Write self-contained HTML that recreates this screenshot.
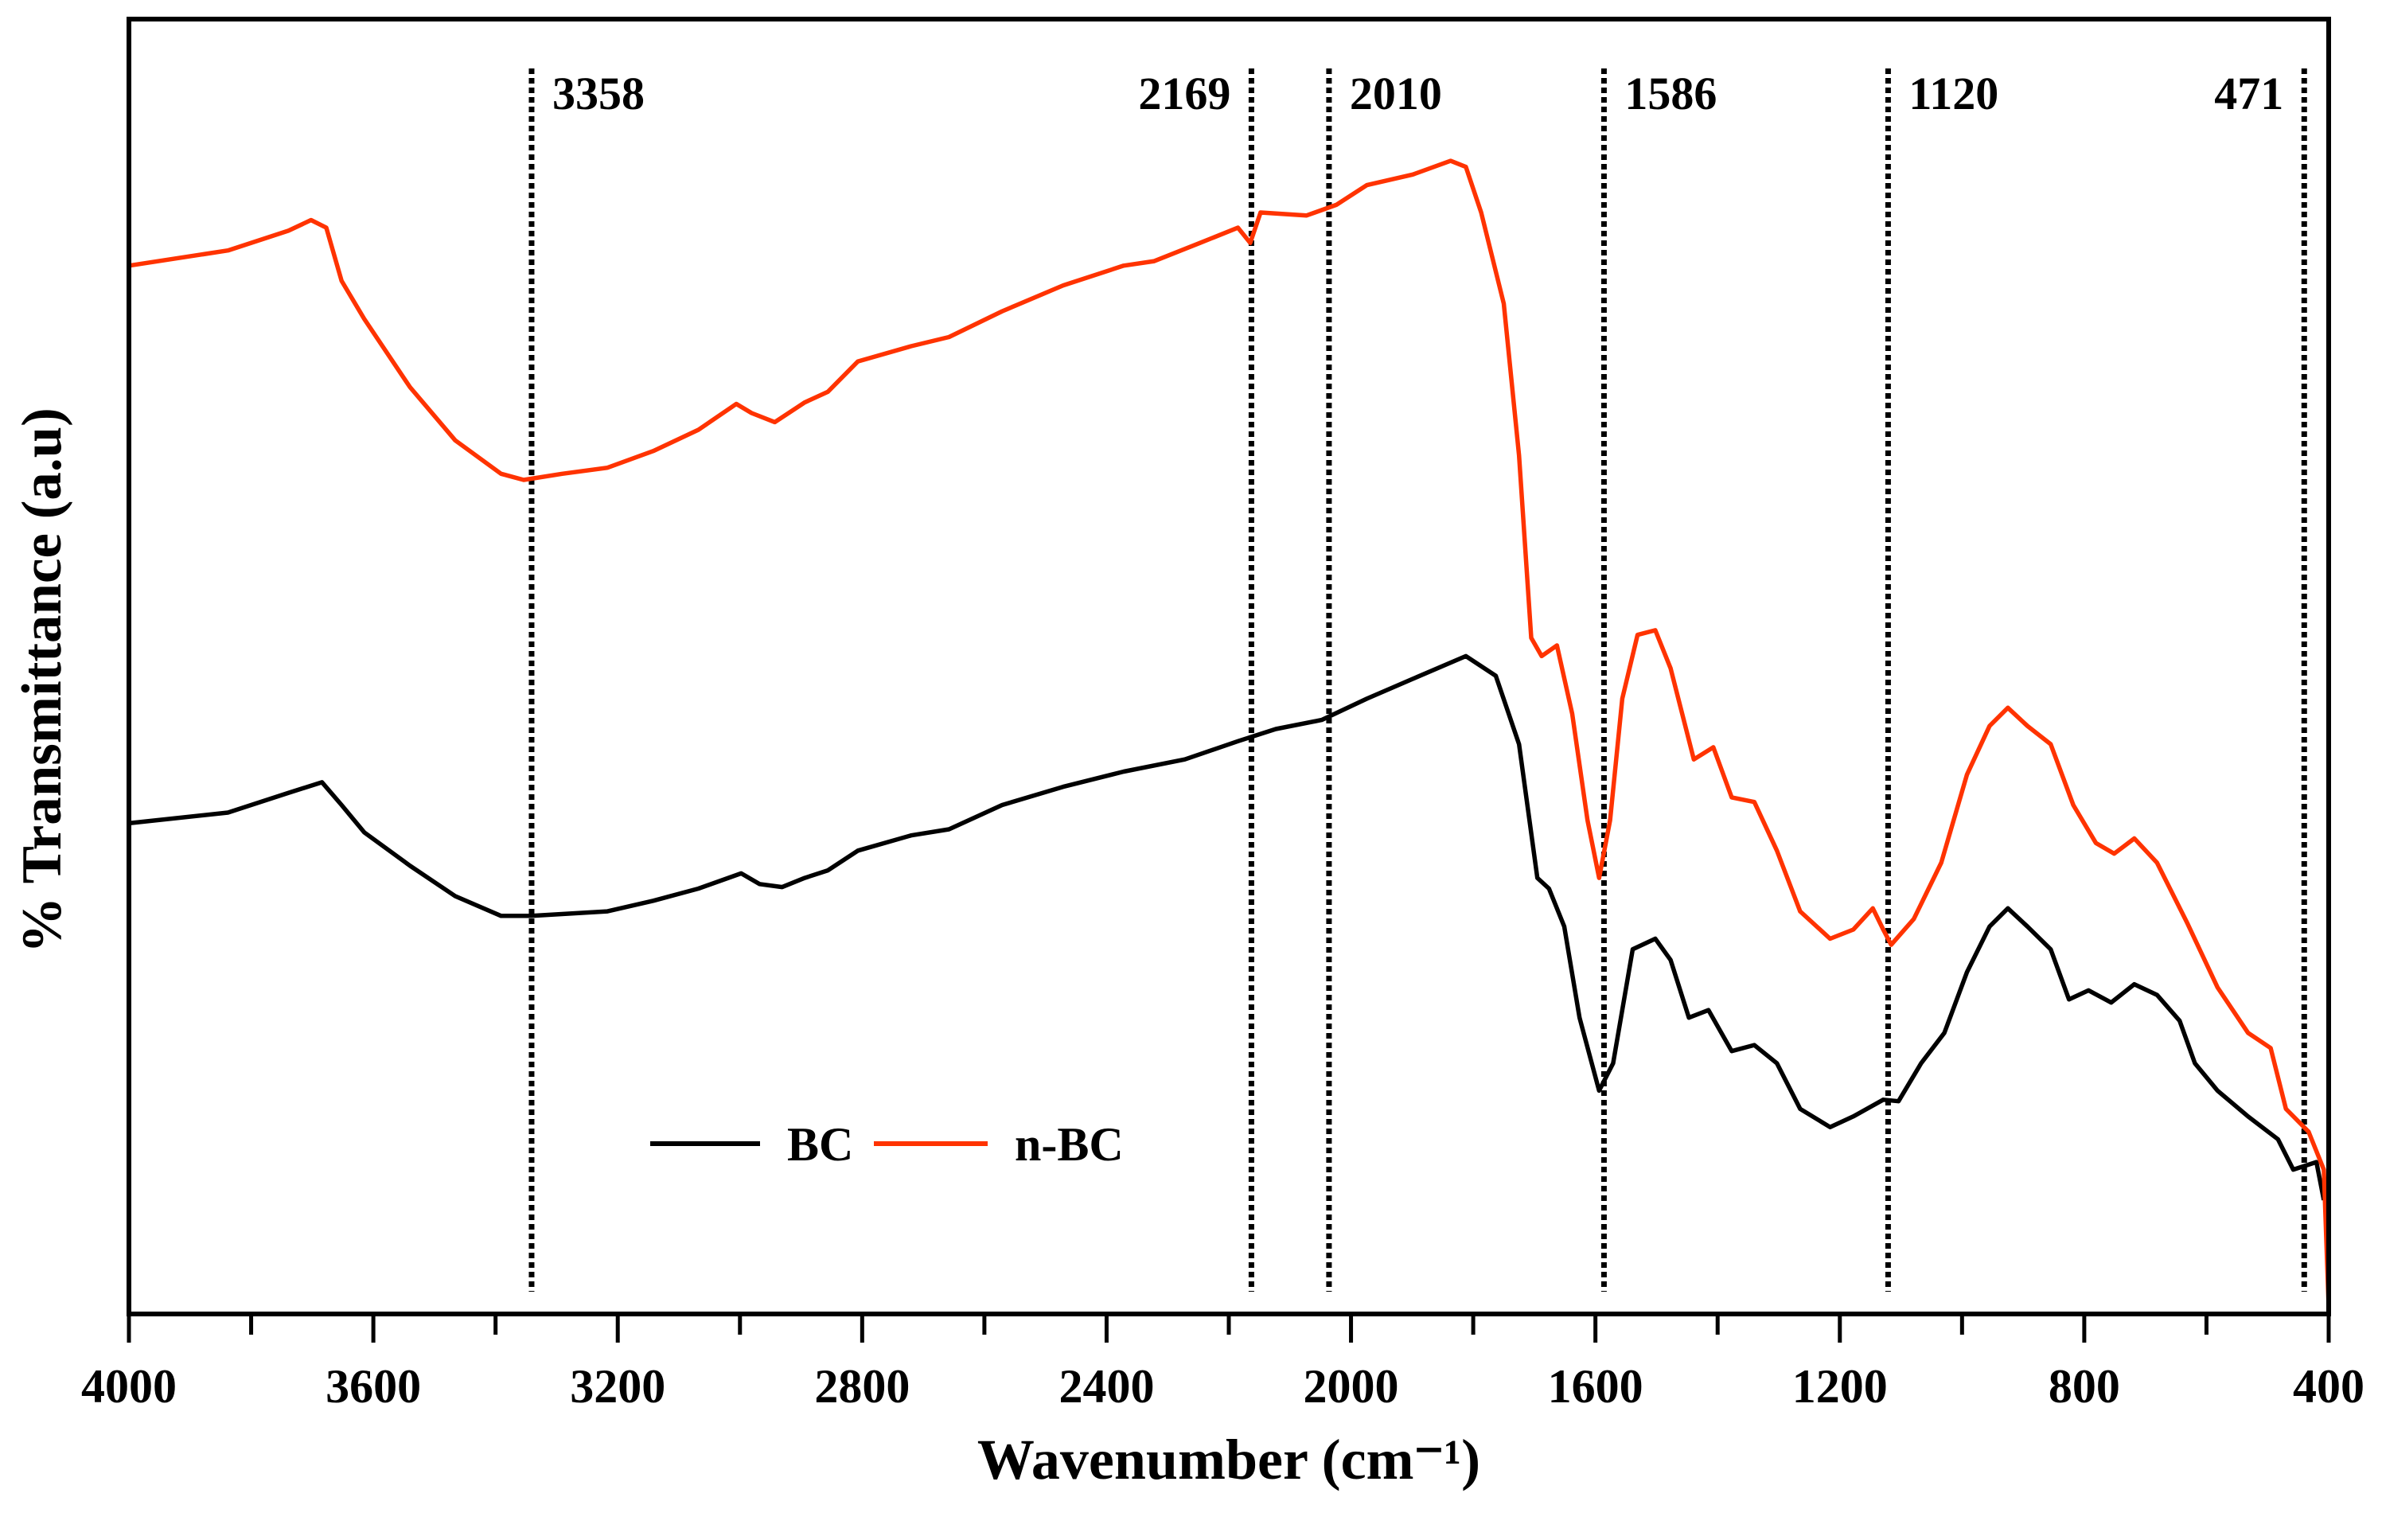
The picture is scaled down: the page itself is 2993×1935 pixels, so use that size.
<!DOCTYPE html>
<html><head><meta charset="utf-8"><title>FTIR spectra</title>
<style>html,body{margin:0;padding:0;background:#fff}svg{display:block}text{font-family:"Liberation Serif",serif;font-weight:bold;fill:#000}</style>
</head><body>
<svg id="chart" xmlns="http://www.w3.org/2000/svg" width="2993" height="1935" viewBox="0 0 2993 1935">
<g id="plot"></g>
</svg>
<script>
const redWn=[4000,3838,3739,3702,3677,3652,3615,3540,3466,3391,3354,3291,3217,3142,3068,3006,2981,2943,2894,2856,2807,2720,2658,2571,2471,2372,2322,2247,2185,2165,2148,2073,2024,1974,1899,1837,1812,1787,1750,1725,1705,1688,1663,1638,1613,1594,1576,1556,1531,1502,1477,1439,1407,1377,1340,1303,1265,1216,1178,1146,1129,1116,1079,1034,992,955,925,893,855,818,781,751,718,681,631,582,532,495,470,433,408,400];
const redVal=[690,700,713,720,715,680,655,610,575,553,549,553,557,568,582,599,593,587,600,607,627,637,643,660,677,690,693,705,715,705,725,723,730,743,750,759,755,725,665,565,445,433,440,395,325,287,325,405,447,450,425,365,373,340,337,305,265,247,253,267,253,243,260,297,355,387,399,387,375,335,310,303,313,297,257,215,185,175,135,120,95,5];
const blackWn=[4000,3838,3739,3684,3652,3615,3540,3466,3391,3341,3217,3142,3068,2998,2968,2931,2894,2856,2807,2720,2658,2571,2471,2372,2272,2185,2123,2048,1974,1899,1812,1763,1725,1695,1676,1651,1626,1594,1571,1539,1502,1477,1447,1415,1377,1340,1303,1265,1216,1178,1129,1104,1067,1029,992,955,925,893,855,825,793,756,718,681,644,619,582,532,483,458,420,408];
const blackVal=[323,330,343,350,335,317,295,275,262,262,265,272,280,290,283,281,287,292,305,315,319,335,347,357,365,377,385,391,405,418,433,420,375,287,280,255,195,147,165,240,247,233,195,200,173,177,165,135,123,130,141,140,165,185,225,255,267,255,240,207,213,205,217,210,193,165,147,130,115,95,100,75];
const markerWn=[3341,2163,2036,1586,1121,440];
const markerLabels=["3358","2169","2010","1586","1120","471"];
const markerAnchor=["start","end","start","start","start","end"];
const xTicks=[4000,3600,3200,2800,2400,2000,1600,1200,800,400];

const L=162,R=2926,T=24,B=1651;
function X(w){return L+(4000-w)*(R-L)/3600;}
function Y(v){return B-v*1.909;}
const NS="http://www.w3.org/2000/svg";
const g=document.getElementById('plot');
function mk(tag,attrs){const e=document.createElementNS(NS,tag);for(const k in attrs)e.setAttribute(k,attrs[k]);g.appendChild(e);return e;}

markerWn.forEach((w,i)=>{
  const l=mk('line',{x1:X(w),x2:X(w),y1:86,y2:1623,stroke:'#000','stroke-width':7,'stroke-dasharray':'7 5'});
  
  
  const t=mk('text',{x:X(w)+(markerAnchor[i]==='start'?26:-26),y:137,'font-size':58,'text-anchor':markerAnchor[i]});
  t.textContent=markerLabels[i];
  
  
});

function series(wn,val,color,name){
  const pts=wn.map((w,i)=>X(w).toFixed(1)+','+Y(val[i]).toFixed(1)).join(' ');
  const p=mk('polyline',{points:pts,fill:'none',stroke:color,'stroke-width':5.5,'stroke-linejoin':'round'});
  
  
}
series(blackWn,blackVal,'#000','series-bc');
series(redWn,redVal,'#ff3300','series-n-bc');

const fr=mk('rect',{x:L,y:T,width:R-L,height:B-T,fill:'none',stroke:'#000','stroke-width':6});



for(let w=4000;w>=400;w-=200){
  const major=(w%400===0);
  const t=mk('line',{x1:X(w),x2:X(w),y1:B,y2:B+(major?36:26),stroke:'#000','stroke-width':5});
  
  
}
xTicks.forEach(w=>{
  const t=mk('text',{x:X(w),y:1762,'font-size':60,'text-anchor':'middle'});
  t.textContent=w;
  
  
});

const xt=mk('text',{x:1544,y:1858,'font-size':72,'text-anchor':'middle'});
xt.textContent='Wavenumber (cm\u207B\u00B9)';


const yt=mk('text',{x:0,y:0,'font-size':71,'text-anchor':'middle',transform:'translate(76,855) rotate(-90)'});
yt.textContent='% Transmittance (a.u)';



const l1=mk('line',{x1:817,x2:955,y1:1437,y2:1437,stroke:'#000','stroke-width':6});


const t1=mk('text',{x:989,y:1458,'font-size':60});
t1.textContent='BC';


const l2=mk('line',{x1:1098,x2:1241,y1:1437,y2:1437,stroke:'#ff3300','stroke-width':6});


const t2=mk('text',{x:1275,y:1458,'font-size':60});
t2.textContent='n-BC';


</script>
</body></html>
